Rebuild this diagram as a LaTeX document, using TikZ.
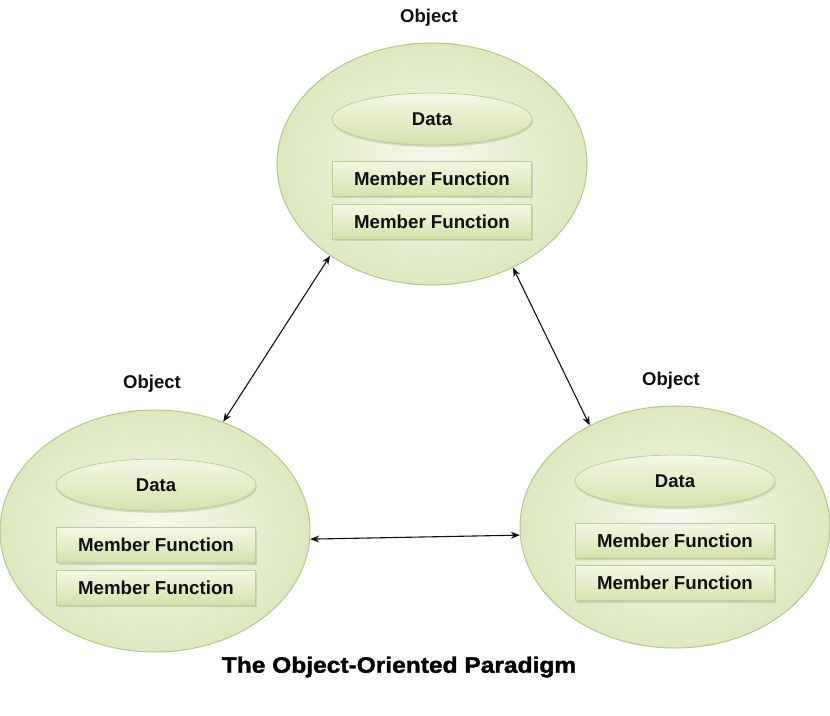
\documentclass[tikz,border=0pt]{standalone}
\usepackage{fontspec}
\setmainfont{Liberation Sans}
\newfontfamily\titlefont{Liberation Sans}[BoldFeatures={FakeBold=1.6,FakeStretch=1.1}]
\usetikzlibrary{shapes.geometric,arrows.meta,shadows}
\definecolor{objin}{HTML}{F6F9EC}
\definecolor{objout}{HTML}{DDE8BF}
\definecolor{objborder}{HTML}{B4C58F}
\definecolor{elTop}{HTML}{F4F8E6}
\definecolor{elBot}{HTML}{D5E2AB}
\definecolor{elBorder}{HTML}{BDCD99}
\definecolor{txt}{HTML}{111111}
\begin{document}
\begin{tikzpicture}[x=1pt,y=-1pt,
  obj/.style={ellipse, draw=objborder, line width=1pt, inner color=objin, outer color=objout,
    minimum width=310pt, minimum height=242pt, inner sep=0pt},
  datae/.style={ellipse, draw=elBorder, line width=0.8pt, top color=elTop, bottom color=elBot,
    minimum width=200pt, minimum height=52pt, inner sep=0pt, text=txt,
    font=\bfseries\fontsize{18.5}{20}\selectfont,
    drop shadow={opacity=0.25, shadow xshift=0.8pt, shadow yshift=-2pt}},
  mf/.style={rectangle, draw=elBorder, line width=0.8pt, top color=elTop, bottom color=elBot,
    minimum width=199pt, minimum height=35pt, inner sep=0pt, text=txt,
    font=\bfseries\fontsize{18.7}{20}\selectfont,
    drop shadow={opacity=0.25, shadow xshift=1pt, shadow yshift=-2pt}},
  objlabel/.style={text=txt, font=\fontsize{18.5}{20}\selectfont\bfseries},
  link/.style={{Stealth[length=9pt,width=7pt]}-{Stealth[length=9pt,width=7pt]}, line width=1.1pt, draw=txt}
]
\useasboundingbox (0,0) rectangle (830,715);
\fill[white] (0,0) rectangle (830,715);

% top object
\node[objlabel] (ltop) at (429,18) {Object};
\node[obj] (top) at (432,164) {};
\node[datae] (dtop) at (432,119) {Data};
\node[mf] (mtop1) at (432,178.5) {Member Function};
\node[mf] (mtop2) at (432,221.5) {Member Function};

% left object
\node[objlabel] (lleft) at (152,384) {Object};
\node[obj] (left) at (155,531) {};
\node[datae] (dleft) at (156,485) {Data};
\node[mf] (mleft1) at (156,545) {Member Function};
\node[mf] (mleft2) at (156,587.5) {Member Function};

% right object
\node[objlabel] (lright) at (671,381) {Object};
\node[obj] (right) at (675,527) {};
\node[datae] (dright) at (675,481) {Data};
\node[mf] (mright1) at (675,540.5) {Member Function};
\node[mf] (mright2) at (675,583) {Member Function};

% connectors
\draw[link] (top.222) -- (left.58);
\draw[link] (top.308) -- (right.130);
\draw[link] (left.357) -- (right.183);

% title
\node[text=black, font=\titlefont\bfseries\fontsize{22.3}{26}\selectfont] (title) at (399,667) {The Object-Oriented Paradigm};
\end{tikzpicture}
\end{document}
